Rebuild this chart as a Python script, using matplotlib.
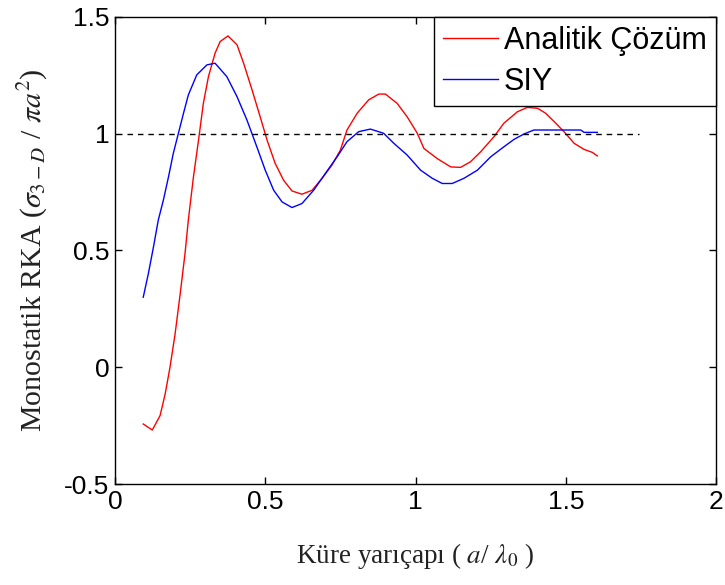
import matplotlib
matplotlib.use("Agg")
import matplotlib.pyplot as plt

# Values
x_analitik = [0.094, 0.124, 0.15, 0.167, 0.183, 0.2, 0.217, 0.233, 0.244, 0.261,
              0.278, 0.294, 0.311, 0.333, 0.35, 0.376, 0.406, 0.428, 0.456, 0.483,
              0.506, 0.533, 0.561, 0.589, 0.622, 0.656, 0.689, 0.722, 0.75, 0.772,
              0.806, 0.844, 0.878, 0.9, 0.939, 0.972, 1.006, 1.028, 1.072, 1.117,
              1.15, 1.183, 1.217, 1.261, 1.294, 1.339, 1.372, 1.406, 1.433, 1.467,
              1.494, 1.528, 1.561, 1.589, 1.605]
y_analitik = [-0.243, -0.269, -0.207, -0.114, 0.0, 0.143, 0.315, 0.487, 0.63, 0.815,
              0.973, 1.13, 1.245, 1.345, 1.395, 1.419, 1.381, 1.302, 1.188, 1.073,
              0.973, 0.873, 0.801, 0.755, 0.741, 0.758, 0.809, 0.866, 0.93, 1.016,
              1.088, 1.145, 1.17, 1.17, 1.13, 1.073, 1.002, 0.937, 0.894, 0.858,
              0.856, 0.88, 0.923, 0.987, 1.045, 1.094, 1.113, 1.109, 1.088, 1.045,
              1.009, 0.959, 0.933, 0.92, 0.905]

x_siy = [0.094, 0.111, 0.128, 0.144, 0.161, 0.178, 0.194, 0.211, 0.228, 0.244,
         0.272, 0.306, 0.333, 0.372, 0.406, 0.439, 0.472, 0.5, 0.528, 0.556,
         0.589, 0.622, 0.661, 0.7, 0.739, 0.772, 0.811, 0.85, 0.894, 0.928,
         0.972, 1.017, 1.056, 1.089, 1.122, 1.161, 1.206, 1.25, 1.294, 1.328,
         1.361, 1.394, 1.55, 1.561, 1.605]
y_siy = [0.3, 0.401, 0.515, 0.63, 0.716, 0.815, 0.916, 1.002, 1.088, 1.166,
         1.252, 1.295, 1.302, 1.245, 1.159, 1.059, 0.944, 0.844, 0.758, 0.708,
         0.684, 0.701, 0.758, 0.83, 0.901, 0.966, 1.009, 1.02, 1.002, 0.959,
         0.909, 0.844, 0.809, 0.787, 0.787, 0.809, 0.844, 0.901, 0.944, 0.976,
         0.999, 1.016, 1.016, 1.006, 1.006]

ref_x = [0.04, 1.745]
ref_y = [1.0, 1.0]

plt.rcParams['mathtext.fontset'] = 'stix'

fig = plt.figure(figsize=(7.25, 5.85), dpi=100)
ax = fig.add_axes([115 / 725, 101 / 585, 601 / 725, 467 / 585])

ax.plot(x_analitik, y_analitik, color='red', lw=1.0, label='Analitik Çözüm')
ax.plot(x_siy, y_siy, color='blue', lw=1.0, label='SIY')
ax.plot(ref_x, ref_y, color='black', lw=1.0, ls=(0, (4, 3.5)))

ax.set_xlim(0, 2)
ax.set_ylim(-0.5, 1.5)
ax.set_xticks([0, 0.5, 1, 1.5, 2])
ax.set_xticklabels(['0', '0.5', '1', '1.5', '2'])
ax.set_yticks([-0.5, 0, 0.5, 1, 1.5])
ax.set_yticklabels(['-0.5', '0', '0.5', '1', '1.5'])
ax.tick_params(direction='in', top=True, right=True, length=5, width=1,
               labelsize=19, pad=4)
for lab in ax.get_xticklabels() + ax.get_yticklabels():
    lab.set_fontfamily('Liberation Sans')
for sp in ax.spines.values():
    sp.set_linewidth(1.0)

ax.set_xlabel('Küre yarıçapı ( $a$/ $\\lambda_0$ )', family='Liberation Serif',
              fontsize=19.5, color='#222222', labelpad=20)
ax.set_ylabel('Monostatik RKA ($\\sigma_{3-D}$ / $\\pi a^2$)', family='Liberation Serif',
              fontsize=21.5, color='#222222', labelpad=10)

leg = ax.legend(loc='upper right', borderaxespad=0, fancybox=False,
                edgecolor='black', framealpha=1, handlelength=1.8,
                handletextpad=0.2, borderpad=0.3, labelspacing=0.35,
                prop={'family': 'Liberation Sans', 'size': 22})
leg.get_frame().set_linewidth(1.0)

fig.savefig('out.png', dpi=100)
